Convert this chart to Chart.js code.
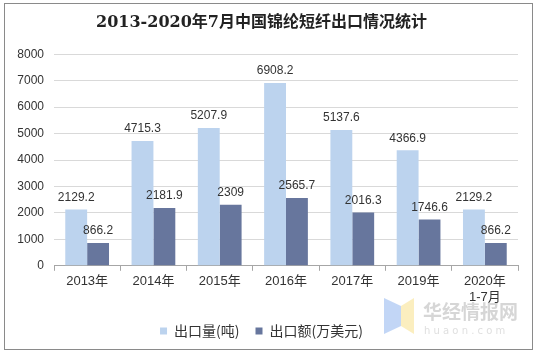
<!DOCTYPE html>
<html>
<head>
<meta charset="utf-8">
<script src="https://cdn.jsdelivr.net/npm/chart.js@4.4.0/dist/chart.umd.min.js"></script>
<style>
  body { margin: 0; background: #fff; }
  #box {
    position: absolute; left: 4px; top: 3px;
    width: 527px; height: 345px;
    border: 1px solid #8a8a8a;
  }
</style>
</head>
<body>
<div id="box"><canvas id="chart" width="527" height="345"></canvas></div>
<script>
// data
const years = ['2013年', '2014年', '2015年', '2016年', '2017年', '2019年', ['2020年', '1-7月']];
const volume = [2129.2, 4715.3, 5207.9, 6908.2, 5137.6, 4366.9, 2129.2];   // 出口量(吨)
const value = [866.2, 2181.9, 2309, 2565.7, 2016.3, 1746.6, 866.2];        // 出口额(万美元)
const yTicks = [0, 1000, 2000, 3000, 4000, 5000, 6000, 7000, 8000];

const lightBlue = '#bcd3ee';
const slate = '#67769d';

// numbers on top of each bar
const barLabels = {
    id: 'barLabels',
    afterDatasetsDraw(chart) {
        const ctx = chart.ctx;
        ctx.save();
        ctx.font = '12px "Liberation Sans", Arial, sans-serif';
        ctx.fillStyle = '#333';
        ctx.textAlign = 'center';
        ctx.textBaseline = 'bottom';
        chart.data.datasets.forEach((ds, i) => {
            chart.getDatasetMeta(i).data.forEach((bar, j) => {
                ctx.fillText(String(ds.data[j]), bar.x, bar.y - 6);
            });
        });
        ctx.restore();
    }
};

// huaon watermark in the corner
const watermark = {
    id: 'watermark',
    afterDraw(chart) {
        const ctx = chart.ctx;
        ctx.save();
        ctx.globalAlpha = 0.55;
        ctx.fillStyle = '#8fb4ee';
        ctx.beginPath();
        ctx.moveTo(379, 294); ctx.lineTo(396, 302); ctx.lineTo(396, 322); ctx.lineTo(379, 330);
        ctx.closePath(); ctx.fill();
        ctx.fillStyle = '#f7e08a';
        ctx.beginPath();
        ctx.moveTo(396, 302); ctx.lineTo(409, 294); ctx.lineTo(409, 330); ctx.lineTo(396, 322);
        ctx.closePath(); ctx.fill();
        ctx.fillStyle = '#b5b5b5';
        ctx.font = 'bold 19px "Noto Sans CJK SC", sans-serif';
        ctx.textBaseline = 'middle';
        ctx.fillText('华经情报网', 418, 308);
        ctx.font = '10px "DejaVu Sans", sans-serif';
        ctx.fillStyle = '#c4c4c4';
        ctx.fillText('h u a o n . c o m', 419, 327);
        ctx.restore();
    }
};

new Chart(document.getElementById('chart'), {
    type: 'bar',
    data: {
        labels: years,
        datasets: [
            { label: '出口量(吨)', data: volume, backgroundColor: lightBlue },
            { label: '出口额(万美元)', data: value, backgroundColor: slate }
        ]
    },
    options: {
        responsive: false,
        animation: false,
        categoryPercentage: 0.66,
        barPercentage: 1,
        layout: { padding: { left: 0, right: 14, top: 0, bottom: 1 } },
        scales: {
            x: {
                grid: { offset: true, drawOnChartArea: false, color: '#a6a6a6', tickLength: 5 },
                border: { display: true, color: '#a6a6a6' },
                ticks: { color: '#333', font: { size: 13, family: '"Liberation Sans", Arial, "Noto Sans CJK SC"' }, padding: 3, maxRotation: 0 }
            },
            y: {
                min: 0, max: 8000,
                afterBuildTicks(scale) { scale.ticks = yTicks.map(v => ({ value: v })); },
                afterFit(scale) { scale.width = 49; },
                grid: { color: '#d9d9d9', drawTicks: false },
                border: { display: false },
                ticks: {
                    color: '#333', padding: 10,
                    font: { size: 12, family: '"Liberation Sans", Arial, sans-serif' },
                    callback: v => String(v)
                }
            }
        },
        plugins: {
            title: {
                display: true,
                text: '2013-2020年7月中国锦纶短纤出口情况统计',
                color: '#222',
                font: { size: 16, weight: 'bold', family: '"DejaVu Serif", "Noto Sans CJK SC", serif' },
                padding: { top: 9, bottom: 22 }
            },
            legend: {
                position: 'bottom',
                labels: {
                    color: '#333', boxWidth: 7, boxHeight: 7, padding: 16,
                    font: { size: 14, family: '"Noto Sans CJK SC", sans-serif' }
                }
            },
            tooltip: { enabled: false }
        }
    },
    plugins: [barLabels, watermark]
});
</script>
</body>
</html>
